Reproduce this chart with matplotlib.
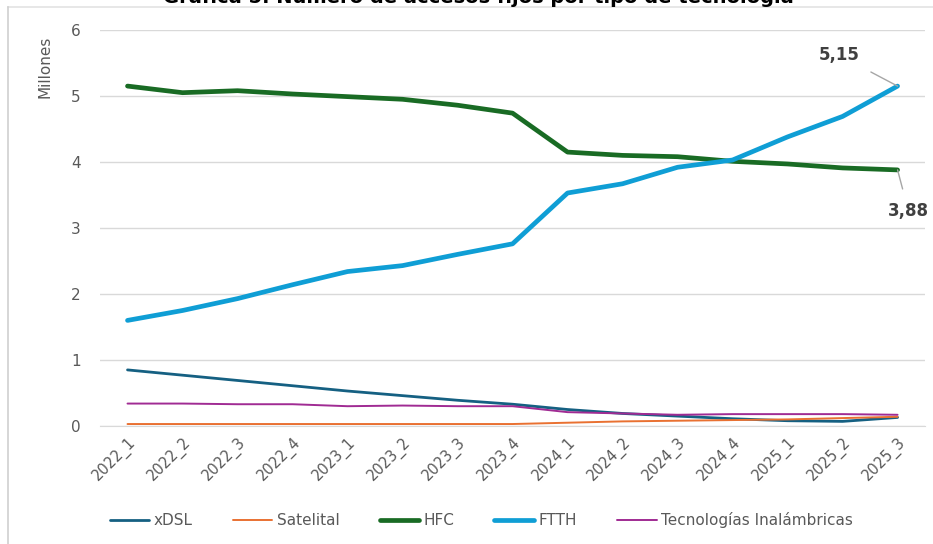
import matplotlib.pyplot as plt
from matplotlib.lines import Line2D

periodos = ["2022_1", "2022_2", "2022_3", "2022_4", "2023_1", "2023_2", "2023_3", "2023_4",
            "2024_1", "2024_2", "2024_3", "2024_4", "2025_1", "2025_2", "2025_3"]

xdsl = [0.85, 0.77, 0.69, 0.61, 0.53, 0.46, 0.39, 0.33, 0.25, 0.19, 0.15, 0.11, 0.08, 0.07, 0.13]
satelital = [0.03, 0.03, 0.03, 0.03, 0.03, 0.03, 0.03, 0.03, 0.05, 0.07, 0.08, 0.09, 0.10, 0.12, 0.14]
hfc = [5.15, 5.05, 5.08, 5.03, 4.99, 4.95, 4.86, 4.74, 4.15, 4.10, 4.08, 4.01, 3.97, 3.91, 3.88]
ftth = [1.60, 1.75, 1.93, 2.14, 2.34, 2.43, 2.60, 2.76, 3.53, 3.67, 3.92, 4.03, 4.38, 4.69, 5.15]
inalambricas = [0.34, 0.34, 0.33, 0.33, 0.30, 0.31, 0.30, 0.30, 0.21, 0.19, 0.17, 0.18, 0.18, 0.18, 0.17]

series = [
    ("xDSL", xdsl, "#156082", 2.0),
    ("Satelital", satelital, "#E97132", 1.4),
    ("HFC", hfc, "#196B24", 3.4),
    ("FTTH", ftth, "#0F9ED5", 3.4),
    ("Tecnologías Inalámbricas", inalambricas, "#A02B93", 1.4),
]

plt.rcParams["font.family"] = ["DejaVu Sans"]

fig = plt.figure(figsize=(9.33, 5.44), dpi=100)
ax = fig.add_axes([0.1072, 0.2169, 0.8843, 0.728])

x = list(range(len(periodos)))
for name, vals, color, lw in series:
    ax.plot(x, vals, color=color, lw=lw, label=name, solid_capstyle="round")

ax.set_xlim(-0.5, len(periodos) - 0.5)
ax.set_ylim(0, 6)
ax.set_yticks(range(0, 7))
ax.set_xticks(x)
ax.set_xticklabels(periodos, rotation=45, ha="right", rotation_mode="anchor")
ax.grid(axis="y", color="#d9d9d9", lw=1.0)
ax.set_axisbelow(True)
for s in ["top", "right", "left"]:
    ax.spines[s].set_visible(False)
ax.spines["bottom"].set_color("#d9d9d9")
ax.tick_params(length=0, labelsize=11, labelcolor="#595959")
ax.tick_params(axis="y", pad=14)
ax.tick_params(axis="x", labelsize=10.5, pad=6)

ax.set_ylabel("Millones", loc="top", fontsize=11, color="#595959")
ax.yaxis.set_label_coords(-0.058, 0.985)

# etiquetas del último valor
ax.annotate("5,15", xy=(x[-1], ftth[-1]), xytext=(x[-1] - 1.07, 5.62),
            ha="center", va="center", fontsize=12, fontweight="bold", color="#404040",
            arrowprops=dict(arrowstyle="-", color="#a6a6a6", lw=1, shrinkA=8, shrinkB=0))
ax.annotate("3,88", xy=(x[-1], hfc[-1]), xytext=(x[-1] + 0.2, 3.25),
            ha="center", va="center", fontsize=12, fontweight="bold", color="#404040",
            arrowprops=dict(arrowstyle="-", color="#a6a6a6", lw=1, shrinkA=8, shrinkB=0),
            annotation_clip=False)

fig.text(0.513, 1 - 3 / 544, "Gráfica 5. Número de accesos fijos por tipo de tecnología",
         ha="center", va="baseline", fontsize=14, fontweight="bold", color="black")

# marco del área del gráfico
fig.add_artist(Line2D([8 / 933, 1], [1 - 7 / 544, 1 - 7 / 544], color="#e3e3e3", lw=1.2,
                      transform=fig.transFigure))
fig.add_artist(Line2D([8 / 933, 8 / 933], [0, 1 - 7 / 544], color="#d0d0d0", lw=1.2,
                      transform=fig.transFigure))

fig.legend(loc="center", bbox_to_anchor=(0.516, 1 - 520 / 544), ncol=5, frameon=False,
           fontsize=11, labelcolor="#595959", handlelength=2.6, handletextpad=0.3,
           columnspacing=2.6)

fig.savefig("out.png", dpi=100, facecolor="white")
